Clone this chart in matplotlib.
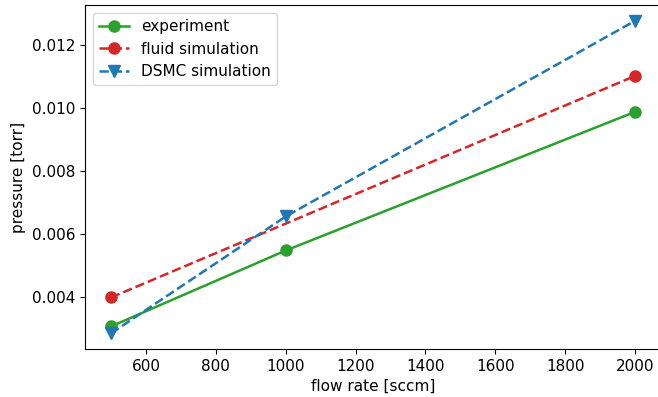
import matplotlib
matplotlib.use('Agg')
import matplotlib.pyplot as plt

flow_exp = [500, 1000, 2000]
p_exp = [0.00308, 0.00549, 0.00989]

flow_fluid = [500, 2000]
p_fluid = [0.00400, 0.01103]

flow_dsmc = [500, 1000, 2000]
p_dsmc = [0.00286, 0.00657, 0.01278]

fig = plt.figure(figsize=(6.58, 3.97), dpi=100)
ax = fig.add_axes([0.129, 0.121, 0.876, 0.866])

ax.plot(flow_exp, p_exp, '-o', color='tab:green', lw=1.8, ms=8, label='experiment')
ax.plot(flow_fluid, p_fluid, '--o', color='tab:red', lw=1.8, ms=8, label='fluid simulation')
ax.plot(flow_dsmc, p_dsmc, '--v', color='tab:blue', lw=1.8, ms=8, label='DSMC simulation')

ax.set_xlabel('flow rate [sccm]', fontsize=11)
ax.set_ylabel('pressure [torr]', fontsize=11)
ax.tick_params(labelsize=11)
ax.set_xticks([600, 800, 1000, 1200, 1400, 1600, 1800, 2000])
ax.set_yticks([0.004, 0.006, 0.008, 0.010, 0.012])
ax.legend(loc='upper left', fontsize=11)

fig.savefig('out.png', dpi=100)
